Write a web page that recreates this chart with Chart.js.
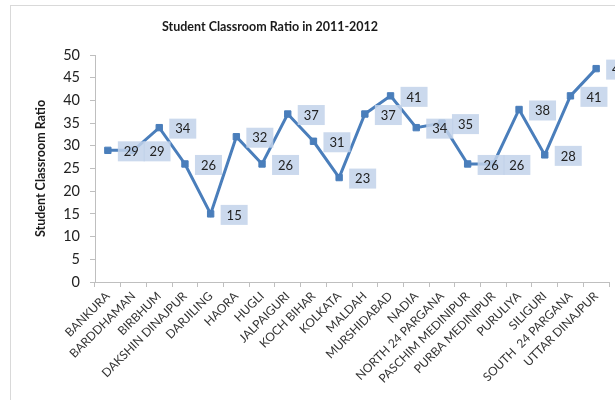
<!DOCTYPE html>
<html>
<head>
<meta charset="utf-8">
<script src="https://cdn.jsdelivr.net/npm/chart.js@4"></script>
<style>
  html, body { margin: 0; padding: 0; background: #ffffff; }
  #wrap { width: 615px; height: 400px; position: relative; }
</style>
</head>
<body>
<div id="wrap"><canvas id="c" width="615" height="400"></canvas></div>
<script>
const districts = [
  "BANKURA", "BARDDHAMAN", "BIRBHUM", "DAKSHIN DINAJPUR", "DARJILING",
  "HAORA", "HUGLI", "JALPAIGURI", "KOCH BIHAR", "KOLKATA",
  "MALDAH", "MURSHIDABAD", "NADIA", "NORTH 24 PARGANA", "PASCHIM MEDINIPUR",
  "PURBA MEDINIPUR", "PURULIYA", "SILIGURI", "SOUTH  24 PARGANA", "UTTAR DINAJPUR"
];
const ratios = [29, 29, 34, 26, 15, 32, 26, 37, 31, 23, 37, 41, 34, 35, 26, 26, 38, 28, 41, 47];
const yTicks = [0, 5, 10, 15, 20, 25, 30, 35, 40, 45, 50];

const chartTitle = "Student Classroom Ratio in 2011-2012";
const yTitle = "Student Classroom Ratio";

const FONT = "Lato, 'Open Sans', sans-serif";
const LINE_BLUE = "#4a7ebb";
const AXIS_GREY = "#bfbfbf";

// Frame, title and value boxes
const decorations = {
  id: "decorations",
  beforeDraw(chart) {
    const ctx = chart.ctx;
    ctx.save();
    ctx.strokeStyle = "#d9d9d9";
    ctx.lineWidth = 1;
    ctx.strokeRect(10.5, 5.5, 700, 500);
    ctx.fillStyle = "#1a1a1a";
    ctx.font = "bold 12.5px " + FONT;
    ctx.textAlign = "center";
    ctx.textBaseline = "middle";
    ctx.fillText(chartTitle, 270, 27);
    ctx.restore();
  },
  afterDatasetsDraw(chart) {
    const ctx = chart.ctx;
    const meta = chart.getDatasetMeta(0);
    const values = chart.data.datasets[0].data;
    ctx.save();
    ctx.font = "13px " + FONT;
    ctx.textBaseline = "middle";
    ctx.textAlign = "center";
    meta.data.forEach((pt, i) => {
      const txt = String(values[i]);
      const w = 27, h = 20;
      const bx = pt.x + 10;
      const by = pt.y - h / 2 + 1;
      ctx.fillStyle = "rgba(194, 210, 234, 0.85)";
      ctx.fillRect(bx, by, w, h);
      ctx.fillStyle = "#222222";
      ctx.fillText(txt, bx + w / 2, by + h / 2 + 0.5);
    });
    ctx.restore();
  }
};

new Chart(document.getElementById("c"), {
  type: "line",
  data: {
    labels: districts,
    datasets: [{
      data: ratios,
      borderColor: LINE_BLUE,
      backgroundColor: LINE_BLUE,
      borderWidth: 3,
      pointStyle: "rect",
      pointRadius: 4.5,
      pointBackgroundColor: LINE_BLUE,
      pointBorderColor: LINE_BLUE,
      pointBorderWidth: 1,
      tension: 0,
      fill: false
    }]
  },
  options: {
    responsive: false,
    animation: false,
    devicePixelRatio: 1,
    layout: { padding: { left: 28, top: 55, right: 6, bottom: 0 } },
    plugins: {
      legend: { display: false },
      title: { display: false },
      tooltip: { enabled: false }
    },
    scales: {
      x: {
        type: "category",
        offset: true,
        afterFit(scale) { scale.height = 118; },
        grid: {
          display: true,
          offset: true,
          drawOnChartArea: false,
          drawTicks: true,
          tickLength: 5,
          color: AXIS_GREY
        },
        border: { display: true, color: AXIS_GREY, width: 1 },
        ticks: {
          autoSkip: false,
          minRotation: 45,
          maxRotation: 45,
          padding: 2,
          color: "#333333",
          font: { family: FONT, size: 12 }
        }
      },
      y: {
        min: 0,
        max: 50,
        afterFit(scale) { scale.width = 67; },
        afterBuildTicks(scale) { scale.ticks = yTicks.map(v => ({ value: v })); },
        grid: {
          display: true,
          drawOnChartArea: false,
          drawTicks: true,
          tickLength: 5,
          color: AXIS_GREY
        },
        border: { display: true, color: AXIS_GREY, width: 1 },
        ticks: {
          padding: 10,
          color: "#222222",
          font: { family: FONT, size: 14.5 }
        },
        title: {
          display: true,
          text: yTitle,
          color: "#1a1a1a",
          padding: { top: 5, bottom: 0 },
          font: { family: FONT, size: 12.5, weight: "bold" }
        }
      }
    }
  },
  plugins: [decorations]
});
</script>
</body>
</html>
